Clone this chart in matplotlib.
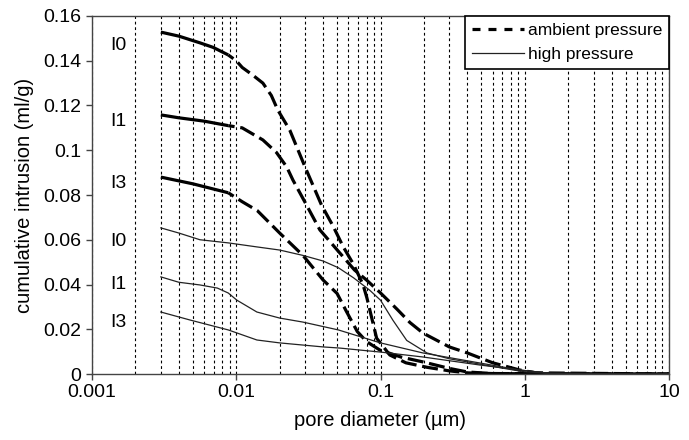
import numpy as np
import matplotlib
matplotlib.use("Agg")
import matplotlib.pyplot as plt

plt.rcParams['font.family'] = ['Liberation Sans', 'DejaVu Sans']

# ambient pressure curves (pore diameter in um, cumulative intrusion in ml/g)
amb_I0_d = [0.003, 0.004, 0.0056, 0.0069, 0.0088, 0.010, 0.011, 0.013, 0.0153, 0.0175, 0.0194,
            0.0235, 0.03, 0.039, 0.047, 0.055, 0.065, 0.0756, 0.0805, 0.094, 0.116, 0.15, 0.21,
            0.3, 0.4, 0.6, 1, 10]
amb_I0_v = [0.1528, 0.151, 0.148, 0.146, 0.1426, 0.140, 0.137, 0.1336, 0.130, 0.1245, 0.118,
            0.109, 0.0925, 0.0755, 0.066, 0.057, 0.049, 0.040, 0.034, 0.016, 0.0085, 0.0050,
            0.003, 0.0014, 0.0005, 0.0002, 0.0001, 0]

amb_I1_d = [0.003, 0.004, 0.006, 0.0088, 0.011, 0.0153, 0.019, 0.0224, 0.0247, 0.03, 0.038,
            0.05, 0.066, 0.08, 0.099, 0.13, 0.16, 0.197, 0.3, 0.4, 0.6, 0.92, 1.2, 10]
amb_I1_v = [0.1158, 0.1145, 0.113, 0.111, 0.110, 0.1046, 0.099, 0.0925, 0.0867, 0.0767, 0.0644,
            0.0555, 0.0465, 0.042, 0.0365, 0.029, 0.023, 0.0183, 0.0121, 0.0094, 0.005, 0.0018,
            0.0005, 0]

amb_I3_d = [0.003, 0.005, 0.0088, 0.011, 0.014, 0.020, 0.029, 0.040, 0.050, 0.058, 0.069,
            0.08, 0.099, 0.14, 0.197, 0.3, 0.40, 0.6, 10]
amb_I3_v = [0.088, 0.085, 0.081, 0.077, 0.073, 0.063, 0.053, 0.042, 0.036, 0.028, 0.019,
            0.0145, 0.0107, 0.0075, 0.0054, 0.0025, 0.0009, 0.0002, 0]

# high pressure curves
high_I0_d = [0.003, 0.004, 0.0056, 0.0088, 0.0139, 0.020, 0.029, 0.040, 0.051, 0.065, 0.084,
             0.1, 0.122, 0.152, 0.21, 0.30, 0.40, 0.83, 1.0, 1.5, 10]
high_I0_v = [0.0653, 0.063, 0.060, 0.0586, 0.0568, 0.0554, 0.053, 0.0505, 0.0475, 0.043, 0.0375,
             0.033, 0.024, 0.015, 0.0094, 0.0068, 0.0054, 0.0018, 0.001, 0.0003, 0]

high_I1_d = [0.003, 0.004, 0.0056, 0.0074, 0.0088, 0.0101, 0.0139, 0.020, 0.029, 0.051, 0.1,
             0.197, 0.49, 0.92, 1.5, 10]
high_I1_v = [0.0434, 0.041, 0.0398, 0.0384, 0.0362, 0.033, 0.0277, 0.025, 0.0232, 0.0197, 0.0139,
             0.0094, 0.0049, 0.0018, 0.0003, 0]

high_I3_d = [0.003, 0.0048, 0.0088, 0.0139, 0.020, 0.040, 0.052, 0.1, 0.197, 0.49, 0.92, 1.5, 10]
high_I3_v = [0.0277, 0.0241, 0.0197, 0.0152, 0.0139, 0.0121, 0.0116, 0.0098, 0.0076, 0.004,
             0.0018, 0.0003, 0]

# curve labels at the left
label_text = ["I0", "I1", "I3", "I0", "I1", "I3"]
label_y = [0.147, 0.113, 0.085, 0.059, 0.040, 0.023]
label_x = 0.00152

y_ticks = [0, 0.02, 0.04, 0.06, 0.08, 0.1, 0.12, 0.14, 0.16]
y_ticklabels = ["0", "0.02", "0.04", "0.06", "0.08", "0.1", "0.12", "0.14", "0.16"]
x_ticks = [0.001, 0.01, 0.1, 1, 10]
x_ticklabels = ["0.001", "0.01", "0.1", "1", "10"]

fig = plt.figure(figsize=(6.89, 4.40), dpi=100)
ax = fig.add_axes([92 / 689, 66 / 440, 577 / 689, 358 / 440])

ax.set_xscale('log')
ax.set_xlim(0.001, 10)
ax.set_ylim(0, 0.16)

# vertical dashed grid at every major and minor decade position
ax.grid(True, which='both', axis='x', color='black', linestyle=(0, (2.5, 2.5)), linewidth=0.8)
ax.grid(False, axis='y')

lw_amb = 2.3
for d, v in [(amb_I0_d, amb_I0_v), (amb_I1_d, amb_I1_v), (amb_I3_d, amb_I3_v)]:
    d = np.array(d)
    v = np.array(v)
    head = d <= 0.0088
    tail = d >= 0.0088
    ax.plot(d[head], v[head], color='black', linewidth=lw_amb, solid_capstyle='butt')
    ax.plot(d[tail], v[tail], color='black', linewidth=lw_amb, linestyle=(3, (5, 1.8)),
            dash_capstyle='butt')

for d, v in [(high_I0_d, high_I0_v), (high_I1_d, high_I1_v), (high_I3_d, high_I3_v)]:
    ax.plot(d, v, color='#222222', linewidth=0.9)

for t, y in zip(label_text, label_y):
    ax.text(label_x, y, t, fontsize=14, ha='center', va='center')

ax.set_xticks(x_ticks)
ax.set_xticklabels(x_ticklabels)
ax.set_yticks(y_ticks)
ax.set_yticklabels(y_ticklabels)
ax.tick_params(axis='both', which='major', direction='out', length=4, labelsize=14,
               color='#444444', width=1)
ax.tick_params(axis='x', which='minor', length=0)

for s in ax.spines.values():
    s.set_color('#444444')
    s.set_linewidth(1)

ax.set_xlabel("pore diameter (\u00b5m)", fontsize=14.5, labelpad=7)
ax.set_ylabel("cumulative intrusion (ml/g)", fontsize=14.5, labelpad=7)

# legend handles
ax.plot([], [], color='black', linewidth=2.3, linestyle=(0, (2.5, 2.5)), label='ambient pressure')
ax.plot([], [], color='#222222', linewidth=0.9, label='high pressure')
handles, labels = ax.get_legend_handles_labels()
leg = ax.legend(handles, labels, loc='upper right', borderaxespad=0, fancybox=False,
                edgecolor='black', framealpha=1, fontsize=12.5, handlelength=3.0,
                handletextpad=0.2, borderpad=0.4, labelspacing=0.5)
leg.get_frame().set_linewidth(1.2)

fig.savefig("out.png", dpi=100)
